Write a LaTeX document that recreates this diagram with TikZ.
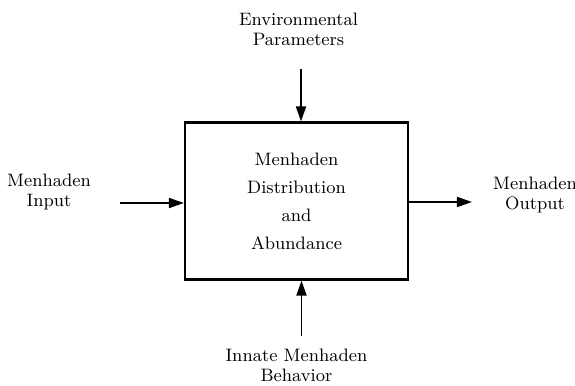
\documentclass[tikz,border=0pt]{standalone}
\usepackage{amsmath}
\usetikzlibrary{positioning,arrows.meta}

\begin{document}
\begin{tikzpicture}[x=0.5pt, y=-0.5pt, >={Triangle[length=7.5pt,width=5pt]},
    block/.style={draw, line width=1.1pt, minimum width=111.5pt, minimum height=78.5pt, align=center, font=\fontsize{9}{10}\selectfont},
    lbl/.style={align=center, font=\fontsize{9}{10}\selectfont},
    flow/.style={->, line width=0.9pt},]
    \useasboundingbox (0,0) rectangle (575,386);
    \node[block] (model) at (296.5,201) {Menhaden\\[4pt] Distribution\\[4pt] and\\[4pt] Abundance};
    \node[lbl, above of=model, node distance=85.75pt, xshift=1pt] (env) {Environmental\\ Parameters};
    \node[lbl, below of=model, node distance=82pt] (innate) {Innate Menhaden\\ Behavior};
    \node[lbl, left of=model, node distance=123.75pt, yshift=4.5pt] (input) {Menhaden\\ Input};
    \node[lbl, right of=model, node distance=119.25pt, yshift=3pt] (output) {Menhaden\\ Output};
    \node[coordinate, above of=model, node distance=66pt, xshift=2.25pt] (envin) {};
    \node[coordinate, below of=model, node distance=67.5pt, xshift=2.5pt] (innatein) {};
    \node[coordinate, left of=model, node distance=88.25pt, yshift=-1pt] (inputin) {};
    \node[coordinate, right of=model, node distance=87.75pt, yshift=-0.5pt] (outputout) {};
    \draw[flow] (envin) -- (envin |- model.north);
    \draw[flow] (innatein) -- (innatein |- model.south);
    \draw[flow] (inputin) -- (inputin -| model.west);
    \draw[flow] (model.east |- outputout) -- (outputout);
  \end{tikzpicture}
\end{document}
